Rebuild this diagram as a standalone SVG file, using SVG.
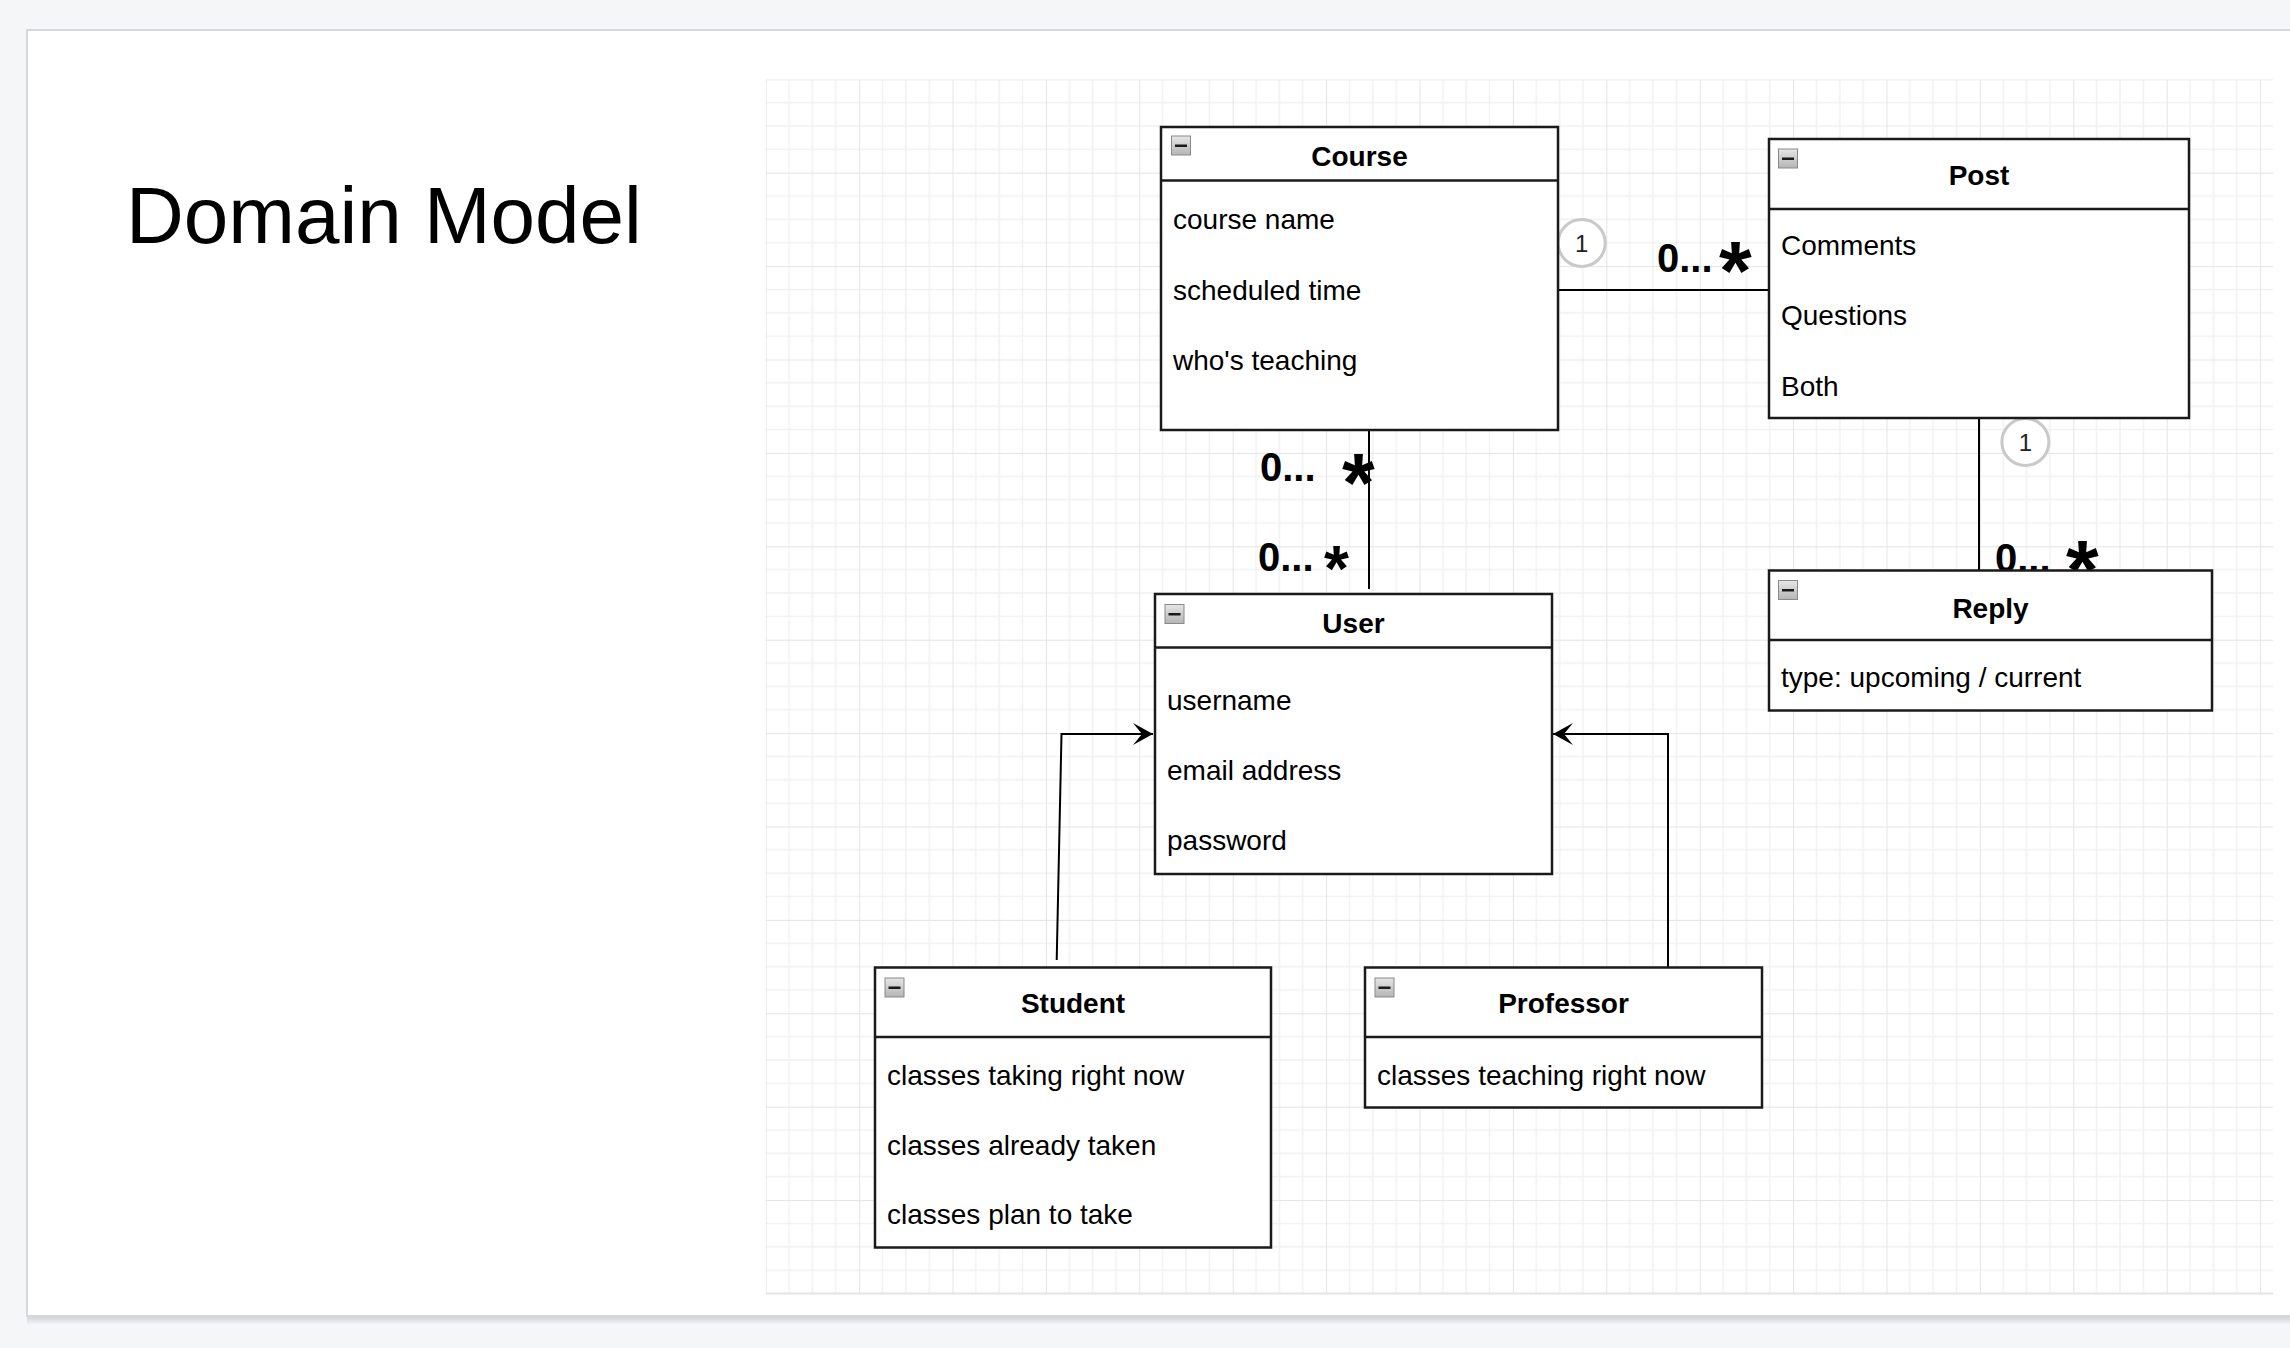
<svg xmlns="http://www.w3.org/2000/svg" width="2290" height="1348" viewBox="0 0 2290 1348">
  <style>
    .box { fill: #ffffff; stroke: #1a1a1a; stroke-width: 2.5; }
    .div { stroke: #1a1a1a; stroke-width: 2.5; }
    .title { font-family: "Liberation Sans", Arial, sans-serif; font-size: 28px; font-weight: bold; fill: #000; text-anchor: middle; }
    .attr { font-family: "Liberation Sans", Arial, sans-serif; font-size: 28px; fill: #000; }
    .edge { fill: none; stroke: #000; stroke-width: 2; }
    .mult { font-family: "Liberation Sans", Arial, sans-serif; font-size: 40px; font-weight: bold; fill: #000; }
    .star { font-size: 84px; }
    .starS { font-size: 64px; }
    .badge { fill: #ffffff; stroke: #c9c9c9; stroke-width: 3; }
    .badgeText { font-family: "Liberation Sans", Arial, sans-serif; font-size: 24px; fill: #222; text-anchor: middle; }
    .icon { fill: url(#iconGrad); stroke: #8a8a8a; stroke-width: 1; }
    .minus { fill: #1a1a1a; }
  </style>
  <defs>
    <linearGradient id="iconGrad" x1="0" y1="0" x2="0" y2="1">
      <stop offset="0" stop-color="#e6e6e6"/>
      <stop offset="1" stop-color="#b5b5b5"/>
    </linearGradient>
    <linearGradient id="shadowGrad" x1="0" y1="0" x2="0" y2="1">
      <stop offset="0" stop-color="#cfd1d4"/>
      <stop offset="1" stop-color="#f5f6f8"/>
    </linearGradient>
    <pattern id="grid" patternUnits="userSpaceOnUse" x="765.7" y="79.3" width="93.4" height="93.4">
      <path d="M23.35,0 V93.4 M46.7,0 V93.4 M70.05,0 V93.4 M0,23.35 H93.4 M0,46.7 H93.4 M0,70.05 H93.4" fill="none" stroke="#f1f1f1" stroke-width="1.5"/>
      <path d="M0,0 V93.4 M0,0 H93.4" fill="none" stroke="#e4e4e4" stroke-width="2"/>
    </pattern>
    <marker id="arrow" viewBox="0 0 20 22" markerWidth="20" markerHeight="22" refX="20" refY="11" orient="auto" markerUnits="userSpaceOnUse">
      <path d="M0,0 L20,11 L0,22 L9,11 Z" fill="#000"/>
    </marker>
  </defs>

  <!-- page background and card -->
  <rect x="0" y="0" width="2290" height="1348" fill="#f5f6f8"/>
  <rect x="27" y="1316" width="2300" height="9" fill="url(#shadowGrad)"/>
  <rect x="27" y="30" width="2300" height="1286" fill="#ffffff" stroke="#d4d7db" stroke-width="2"/>

  <!-- grid -->
  <rect x="765.7" y="79.3" width="1507.3" height="1214.2" fill="url(#grid)"/>
  <line x1="765.7" y1="1293.5" x2="2273" y2="1293.5" stroke="#e4e4e4" stroke-width="2"/>

  <!-- title -->
  <text x="126" y="243" font-family="'Liberation Sans', Arial, sans-serif" font-size="80" fill="#000">Domain Model</text>

  <!-- connectors -->
  <g id="connectors">
    <line class="edge" x1="1552" y1="290" x2="1769" y2="290"/>
    <line class="edge" x1="1369" y1="430" x2="1369" y2="589"/>
    <line class="edge" x1="1979" y1="418" x2="1979" y2="570.5"/>
    <path class="edge" d="M1056.7,960 L1061.5,734 L1153,734" marker-end="url(#arrow)"/>
    <path class="edge" d="M1668,967.5 L1668,734 L1553,734" marker-end="url(#arrow)"/>

    <circle class="badge" cx="1581.7" cy="243" r="23.5"/>
    <text class="badgeText" x="1581.7" y="251.5">1</text>
    <circle class="badge" cx="2025.4" cy="442" r="23.5"/>
    <text class="badgeText" x="2025.4" y="450.5">1</text>

    <text class="mult" x="1657" y="272">0...<tspan class="star" x="1719" y="300">*</tspan></text>
    <text class="mult" x="1260" y="481">0... <tspan class="star" x="1342" y="512">*</tspan></text>
    <text class="mult" x="1258" y="571">0...<tspan class="starS" x="1324" y="591">*</tspan></text>
    <text class="mult" x="1995" y="571.5">0... <tspan class="star" x="2066" y="599">*</tspan></text>
  </g>

  <!-- Course -->
  <g id="node-course">
    <rect class="box" x="1161" y="127" width="397" height="303"/>
    <line class="div" x1="1161" y1="180.5" x2="1558" y2="180.5"/>
    <rect class="icon" x="1171.5" y="136" width="19" height="19"/>
    <rect class="minus" x="1175" y="144.5" width="12" height="2.5"/>
    <text class="title" x="1359.5" y="166">Course</text>
    <text class="attr" x="1173" y="229">course name</text>
    <text class="attr" x="1173" y="300">scheduled time</text>
    <text class="attr" x="1173" y="369.5">who's teaching</text>
  </g>

  <!-- Post -->
  <g id="node-post">
    <rect class="box" x="1769" y="139" width="420" height="279"/>
    <line class="div" x1="1769" y1="209" x2="2189" y2="209"/>
    <rect class="icon" x="1778.5" y="149" width="19" height="19"/>
    <rect class="minus" x="1782" y="157.5" width="12" height="2.5"/>
    <text class="title" x="1979" y="185">Post</text>
    <text class="attr" x="1781" y="254.6">Comments</text>
    <text class="attr" x="1781" y="325">Questions</text>
    <text class="attr" x="1781" y="395.6">Both</text>
  </g>

  <!-- Reply -->
  <g id="node-reply">
    <rect class="box" x="1769" y="570.5" width="443" height="140"/>
    <line class="div" x1="1769" y1="640" x2="2212" y2="640"/>
    <rect class="icon" x="1778.5" y="580.5" width="19" height="19"/>
    <rect class="minus" x="1782" y="589" width="12" height="2.5"/>
    <text class="title" x="1990.5" y="618">Reply</text>
    <text class="attr" x="1781" y="686.6">type: upcoming / current</text>
  </g>

  <!-- User -->
  <g id="node-user">
    <rect class="box" x="1155" y="594" width="397" height="280"/>
    <line class="div" x1="1155" y1="647.5" x2="1552" y2="647.5"/>
    <rect class="icon" x="1165" y="604.5" width="19" height="19"/>
    <rect class="minus" x="1168.5" y="613" width="12" height="2.5"/>
    <text class="title" x="1353.5" y="632.7">User</text>
    <text class="attr" x="1167" y="710">username</text>
    <text class="attr" x="1167" y="780">email address</text>
    <text class="attr" x="1167" y="849.6">password</text>
  </g>

  <!-- Student -->
  <g id="node-student">
    <rect class="box" x="875" y="967.5" width="396" height="280"/>
    <line class="div" x1="875" y1="1037" x2="1271" y2="1037"/>
    <rect class="icon" x="885" y="978" width="19" height="19"/>
    <rect class="minus" x="888.5" y="986.5" width="12" height="2.5"/>
    <text class="title" x="1073" y="1013">Student</text>
    <text class="attr" x="887" y="1084.5">classes taking right now</text>
    <text class="attr" x="887" y="1154.5">classes already taken</text>
    <text class="attr" x="887" y="1224">classes plan to take</text>
  </g>

  <!-- Professor -->
  <g id="node-professor">
    <rect class="box" x="1365" y="967.5" width="397" height="140"/>
    <line class="div" x1="1365" y1="1037" x2="1762" y2="1037"/>
    <rect class="icon" x="1375" y="978" width="19" height="19"/>
    <rect class="minus" x="1378.5" y="986.5" width="12" height="2.5"/>
    <text class="title" x="1563.5" y="1013">Professor</text>
    <text class="attr" x="1377" y="1084.5">classes teaching right now</text>
  </g>
</svg>
